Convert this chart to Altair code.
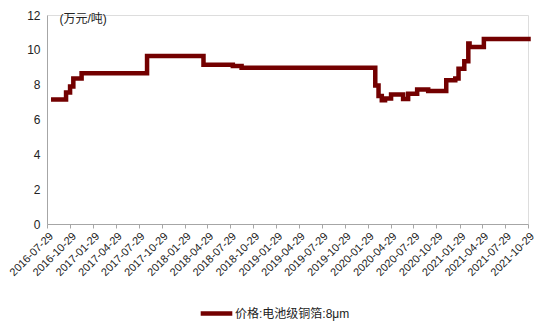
import altair as alt
import pandas as pd

# step-change dates and price values (万元/吨)
dates = ["2016-08-23", "2016-10-13", "2016-10-29", "2016-11-11", "2016-12-14",
         "2017-09-01", "2018-04-14", "2018-08-09", "2018-09-13", "2020-02-28",
         "2020-03-12", "2020-03-25", "2020-04-07", "2020-05-01", "2020-06-18",
         "2020-07-08", "2020-08-13", "2020-09-26", "2020-12-07", "2021-01-12",
         "2021-01-25", "2021-02-17", "2021-03-05", "2021-03-10", "2021-05-06",
         "2021-10-31"]
values = [7.15, 7.55, 7.9, 8.35, 8.65,
          9.65, 9.15, 9.07, 8.97, 7.95,
          7.35, 7.1, 7.2, 7.43, 7.17,
          7.48, 7.72, 7.63, 8.25, 8.35,
          8.92, 9.34, 10.36, 10.16, 10.62,
          10.62]
series_name = "价格:电池级铜箔:8μm"
tick_labels = ["2016-07-29", "2016-10-29", "2017-01-29", "2017-04-29", "2017-07-29",
               "2017-10-29", "2018-01-29", "2018-04-29", "2018-07-29", "2018-10-29",
               "2019-01-29", "2019-04-29", "2019-07-29", "2019-10-29", "2020-01-29",
               "2020-04-29", "2020-07-29", "2020-10-29", "2021-01-29", "2021-04-29",
               "2021-07-29", "2021-10-29"]
y_ticks = [0, 2, 4, 6, 8, 10, 12]

df = pd.DataFrame({"date": dates, "value": values, "series": series_name})


def dt(s):
    y, m, d = (int(p) for p in s.split("-"))
    return alt.DateTime(year=y, month=m, date=d, utc=True)


tick_dt = [dt(s) for s in tick_labels]

FONT = "Liberation Sans, Arial, Noto Sans CJK SC"
COLOR = "#730000"

chart = alt.Chart(df).mark_line(
    interpolate="step-after", strokeWidth=4.5, strokeCap="square"
).encode(
    x=alt.X(
        "date:T",
        scale=alt.Scale(type="utc", domain=[tick_dt[0], tick_dt[-1]]),
        axis=alt.Axis(
            values=tick_dt, format="%Y-%m-%d", labelAngle=315,
            labelAlign="right", labelBaseline="top", labelFontSize=11,
            labelColor="#222222", labelPadding=2, tickSize=4,
            tickColor="#a6a6a6", domainColor="#a6a6a6", grid=False,
            title=None, labelOverlap=False, labelFont=FONT,
        ),
    ),
    y=alt.Y(
        "value:Q",
        scale=alt.Scale(domain=[0, 12], nice=False, zero=True),
        axis=alt.Axis(
            values=y_ticks, grid=False, ticks=False, domainColor="#a6a6a6",
            labelFontSize=12, labelColor="#222222", labelPadding=7,
            labelFont=FONT,
            title="(万元/吨)", titleAngle=0, titleAlign="left",
            titleBaseline="middle", titleX=12, titleY=3,
            titleFontSize=12, titleFontWeight="normal", titleColor="#222222",
            titleFont=FONT,
        ),
    ),
    color=alt.Color(
        "series:N",
        scale=alt.Scale(domain=[series_name], range=[COLOR]),
        legend=alt.Legend(
            title=None, orient="none", legendX=151, legendY=280,
            symbolType="stroke", symbolSize=1000, symbolStrokeWidth=4.5,
            labelFontSize=12, labelFont=FONT, labelColor="#222222",
            labelOffset=0,
        ),
    ),
).properties(
    width=481, height=209,
    autosize=alt.AutoSizeParams(type="none"),
    padding={"left": 47, "top": 15, "right": 22, "bottom": 98},
).configure_view(stroke=None).configure(background="white")

chart.save("out.html", embed_options={"renderer": "svg", "actions": False})
